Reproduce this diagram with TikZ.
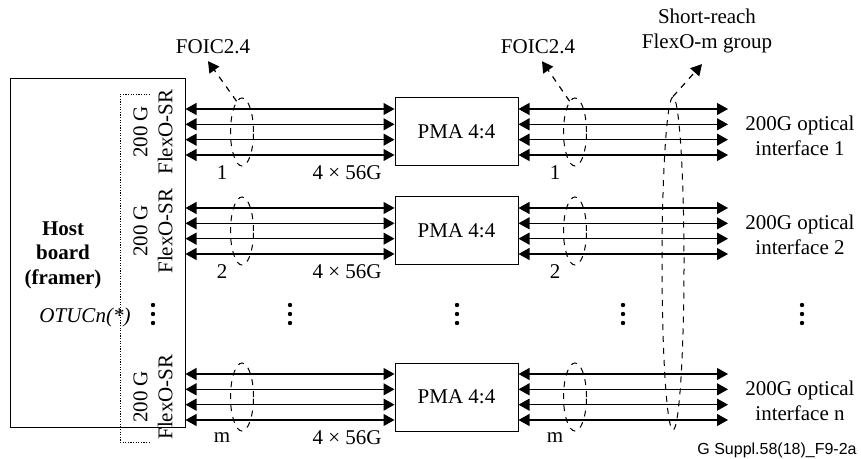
\documentclass[tikz,border=0pt]{standalone}
\usepackage{fontspec}
\setmainfont{Liberation Serif}
\setsansfont{Liberation Sans}
\usetikzlibrary{arrows.meta,calc,shapes.geometric}

\begin{document}
\begin{tikzpicture}[
    x=0.5pt, y=-0.5pt,
    font=\fontsize{10.5}{12.5}\selectfont,
    >={Triangle[length=5.5pt,width=6pt]},
    box/.style={
        rectangle, draw, line width=0.5pt, inner sep=0pt
    },
    pma/.style={
        box, minimum width=61.5pt, minimum height=34pt
    },
    link/.style={line width=0.6pt, <->},
    group/.style={
        ellipse, draw, dashed, line width=0.5pt, inner sep=0pt,
        minimum width=11.5pt, minimum height=34pt
    },
    callout/.style={draw, dashed, line width=0.6pt, ->}
]

\useasboundingbox (0,0) rectangle (861,459);

% host board
\node[box, minimum width=87.5pt, minimum height=174pt] (host) at (97.5,253) {};
\node[font=\fontsize{10.5}{12.25}\selectfont\bfseries, align=center] (hostlbl) at (63,255) {Host\\board\\(framer)};
\node[font=\fontsize{10.5}{12.5}\selectfont\itshape] (otu) at (85,317) {OTUCn(*)};
\draw[line width=0.5pt, dash pattern=on 0.6pt off 0.7pt] (150,95) -- (120,95) -- (120,442) -- (150,442);

\foreach \r/\y/\n/\i in {1/132/1/1, 2/231/2/2, 3/397/m/n} {
    \node[pma] (P\r) at (456.5,\y) {PMA 4:4};
    \node[rotate=90, align=center] (F\r) at (153,\y) {200 G\\FlexO-SR};
    \coordinate (E\r) at (728,\y);
    \foreach \o in {-23,-7.67,7.67,23} {
        \draw[link] ($(P\r.west -| host.east)+(0,\o)$) -- ($(P\r.west)+(0,\o)$);
        \draw[link] ($(P\r.east)+(0,\o)$) -- ($(E\r)+(0,\o)$);
    }
    \node[group] (A\r) at (242,\y) {};
    \node[group] (B\r) at (575,\y) {};
    \node (na\r) at (222,\y+41) {\n};
    \node (rate\r) at (347,\y+41) {4 × 56G};
    \node (nb\r) at (555,\y+41) {\n};
    \node[align=center] (I\r) at (800,\y+4) {200G optical\\interface \i};
}

% vertical dots
\foreach \x in {153,290,457,623,802}
    \foreach \d in {305,314,323}
        \fill (\x,\d) circle[radius=1.1pt];

% short-reach group
\node[group, minimum width=11pt, minimum height=166.5pt] (G) at (673,263.5) {};

% callouts
\node (foicL) at (213,47) {FOIC2.4};
\node (foicR) at (538,47) {FOIC2.4};
\node[align=center] (srg) at (707,31) {Short-reach\\FlexO-m group};
\draw[callout] (A1.100) -- ([xshift=-2.5pt]foicL.south);
\draw[callout] (B1.100) -- ([xshift=2pt]foicR.south);
\draw[callout] (G.north) -- ([xshift=-2.5pt,yshift=-2pt]srg.south);

\node[font=\sffamily\fontsize{8}{9}\selectfont, anchor=east, inner sep=0pt] (fig) at (857,450) {G Suppl.58(18)\_F9-2a};

\end{tikzpicture}
\end{document}
